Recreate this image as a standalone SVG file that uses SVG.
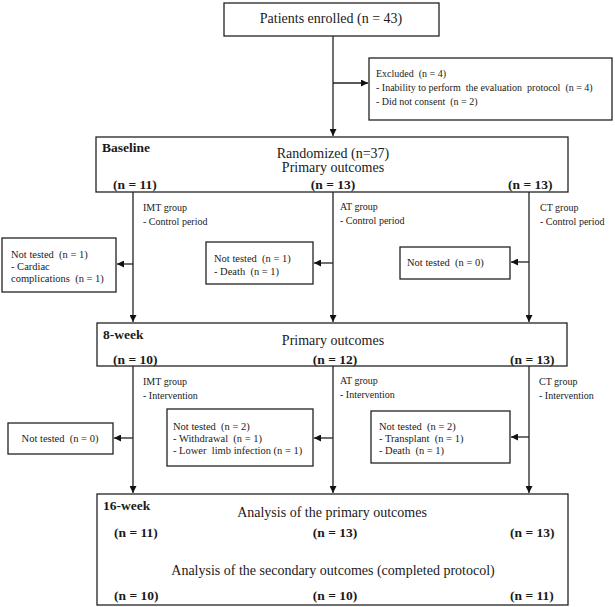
<svg xmlns="http://www.w3.org/2000/svg" width="615" height="607" viewBox="0 0 615 607">
<style>
.box{fill:#fff;stroke:#222;stroke-width:1.3}
.ln{fill:none;stroke:#222;stroke-width:1.3}
text{font-family:"Liberation Serif","Times New Roman",serif;fill:#1a1a1a}
.big{font-size:14px}
.hd{font-size:13.5px;font-weight:bold}
.sm{font-size:10px}
.nt{font-size:10.5px}
.c{text-anchor:middle}
</style>
<defs>
<marker id="ah" viewBox="0 0 10 10" refX="10" refY="5" markerWidth="7" markerHeight="7" markerUnits="userSpaceOnUse" orient="auto">
<path d="M0,0 L10,5 L0,10 z" fill="#111"/>
</marker>
</defs>
<rect width="615" height="607" fill="#fff"/>
<g id="connectors">
<path class="ln" d="M333,36 V136" marker-end="url(#ah)"/>
<path class="ln" d="M333,83 H368" marker-end="url(#ah)"/>
<path class="ln" d="M133,192 V322" marker-end="url(#ah)"/>
<path class="ln" d="M333,192 V322" marker-end="url(#ah)"/>
<path class="ln" d="M529,192 V322" marker-end="url(#ah)"/>
<path class="ln" d="M133,264 H117" marker-end="url(#ah)"/>
<path class="ln" d="M333,263 H314" marker-end="url(#ah)"/>
<path class="ln" d="M529,262 H511" marker-end="url(#ah)"/>
<path class="ln" d="M133,366 V493" marker-end="url(#ah)"/>
<path class="ln" d="M333,366 V493" marker-end="url(#ah)"/>
<path class="ln" d="M529,366 V493" marker-end="url(#ah)"/>
<path class="ln" d="M133,438 H114" marker-end="url(#ah)"/>
<path class="ln" d="M333,438 H314" marker-end="url(#ah)"/>
<path class="ln" d="M529,437 H511" marker-end="url(#ah)"/>
</g>
<g id="enrolled">
<rect class="box" x="224" y="3" width="215" height="33"/>
<text class="big c" x="331" y="23">Patients enrolled (n = 43)</text>
</g>
<g id="excluded">
<rect class="box" x="369" y="58" width="243" height="62"/>
<text class="sm" x="376" y="77" xml:space="preserve">Excluded  (n = 4)</text>
<text class="sm" x="376" y="91" xml:space="preserve">- Inability to perform  the evaluation  protocol  (n = 4)</text>
<text class="sm" x="376" y="105" xml:space="preserve">- Did not consent  (n = 2)</text>
</g>
<g id="baseline">
<rect class="box" x="96" y="137" width="472" height="55"/>
<text class="hd" x="102" y="152">Baseline</text>
<text class="big c" x="333" y="158">Randomized (n=37)</text>
<text class="big c" x="333" y="172">Primary outcomes</text>
<text class="hd" x="113" y="189">(n = 11)</text>
<text class="hd c" x="333" y="189">(n = 13)</text>
<text class="hd" x="508" y="189">(n = 13)</text>
</g>
<g id="labels-control">
<text class="sm" x="143" y="211">IMT  group</text>
<text class="sm" x="143" y="225">- Control period</text>
<text class="sm" x="340" y="210">AT group</text>
<text class="sm" x="340" y="224">- Control period</text>
<text class="sm" x="540" y="211">CT  group</text>
<text class="sm" x="540" y="225">- Control period</text>
</g>
<g id="nt-imt-1">
<rect class="box" x="2" y="238" width="114" height="54"/>
<text class="nt" x="11" y="258" xml:space="preserve">Not tested  (n = 1)</text>
<text class="nt" x="11" y="270">- Cardiac</text>
<text class="nt" x="11" y="282" xml:space="preserve">complications  (n = 1)</text>
</g>
<g id="nt-at-1">
<rect class="box" x="206" y="242" width="107" height="42"/>
<text class="nt" x="214" y="262" xml:space="preserve">Not tested  (n = 1)</text>
<text class="nt" x="214" y="275" xml:space="preserve">- Death  (n = 1)</text>
</g>
<g id="nt-ct-1">
<rect class="box" x="400" y="247" width="110" height="32"/>
<text class="nt" x="407" y="266" xml:space="preserve">Not tested  (n = 0)</text>
</g>
<g id="week8">
<rect class="box" x="97" y="323" width="470" height="43"/>
<text class="hd" x="103" y="339">8-week</text>
<text class="big c" x="333" y="345">Primary outcomes</text>
<text class="hd" x="113" y="364">(n = 10)</text>
<text class="hd c" x="335" y="364">(n = 12)</text>
<text class="hd" x="510" y="364">(n = 13)</text>
</g>
<g id="labels-intervention">
<text class="sm" x="143" y="385">IMT  group</text>
<text class="sm" x="143" y="399">- Intervention</text>
<text class="sm" x="340" y="384">AT group</text>
<text class="sm" x="340" y="398">- Intervention</text>
<text class="sm" x="539" y="385">CT  group</text>
<text class="sm" x="539" y="399">- Intervention</text>
</g>
<g id="nt-imt-2">
<rect class="box" x="8" y="423" width="105" height="31"/>
<text class="nt c" x="60" y="442" xml:space="preserve">Not tested  (n = 0)</text>
</g>
<g id="nt-at-2">
<rect class="box" x="167" y="409" width="146" height="57"/>
<text class="nt" x="173" y="430" xml:space="preserve">Not tested  (n = 2)</text>
<text class="nt" x="173" y="442" xml:space="preserve">- Withdrawal  (n = 1)</text>
<text class="nt" x="173" y="454" xml:space="preserve">- Lower  limb infection (n = 1)</text>
</g>
<g id="nt-ct-2">
<rect class="box" x="371" y="411" width="139" height="52"/>
<text class="nt" x="379" y="430" xml:space="preserve">Not tested  (n = 2)</text>
<text class="nt" x="379" y="442" xml:space="preserve">- Transplant  (n = 1)</text>
<text class="nt" x="379" y="454" xml:space="preserve">- Death  (n = 1)</text>
</g>
<g id="week16">
<rect class="box" x="97" y="494" width="471" height="111"/>
<text class="hd" x="103" y="510">16-week</text>
<text class="big c" x="332" y="517">Analysis of the primary outcomes</text>
<text class="hd" x="114" y="537">(n = 11)</text>
<text class="hd c" x="335" y="537">(n = 13)</text>
<text class="hd" x="510" y="537">(n = 13)</text>
<text class="big c" x="333" y="575">Analysis of the secondary outcomes (completed protocol)</text>
<text class="hd" x="114" y="600">(n = 10)</text>
<text class="hd c" x="335" y="600">(n = 10)</text>
<text class="hd" x="510" y="600">(n = 11)</text>
</g>
</svg>
